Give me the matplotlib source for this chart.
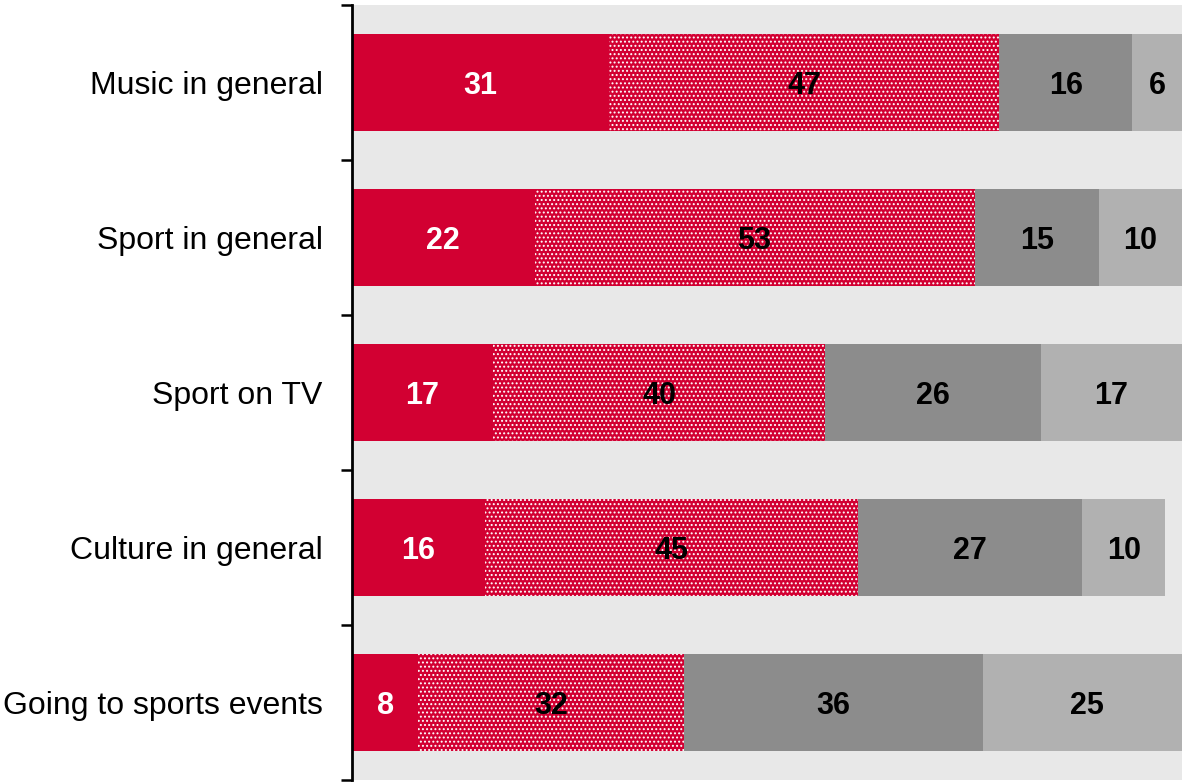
import matplotlib
matplotlib.use("Agg")
import matplotlib.pyplot as plt
import numpy as np

plt.rcParams['font.family'] = ['Liberation Sans', 'DejaVu Sans']
plt.rcParams['hatch.linewidth'] = 0.9

categories = ["Music in general", "Sport in general", "Sport on TV",
              "Culture in general", "Going to sports events"]
very_interested = [31, 22, 17, 16, 8]
quite_interested = [47, 53, 40, 45, 32]
not_very = [16, 15, 26, 27, 36]
not_at_all = [6, 10, 17, 10, 25]

series = [very_interested, quite_interested, not_very, not_at_all]
colors = ["#d20032", "#d20032", "#8c8c8c", "#b1b1b1"]
hatches = [None, "....", None, None]
text_colors = ["white", "black", "black", "black"]

fig = plt.figure(figsize=(11.82, 7.82), dpi=100)
ax = fig.add_axes([352 / 1182, 2 / 782, 1 - 352 / 1182, 775 / 782])
ax.set_facecolor("#e8e8e8")

y = np.arange(len(categories))
left = np.zeros(len(categories))
for vals, col, hat, tcol in zip(series, colors, hatches, text_colors):
    vals = np.array(vals, dtype=float)
    ax.barh(y, vals, left=left, height=0.625, color=col,
            edgecolor="white" if hat else col, linewidth=0, hatch=hat)
    for yi, l, v in zip(y, left, vals):
        ax.text(l + v / 2, yi, f"{int(v)}", ha="center", va="center_baseline",
                fontsize=22, fontweight="bold", color=tcol)
    left += vals

ax.set_xlim(0, 100)
ax.set_ylim(len(categories) - 0.5, -0.5)
ax.set_xticks([])

# boundary ticks between rows, labels centred on rows
ax.set_yticks(np.arange(-0.5, len(categories)))
ax.set_yticklabels([])
ax.set_yticks(y, minor=True)
ax.set_yticklabels(categories, minor=True, fontsize=23)
ax.tick_params(axis="y", which="major", length=8, width=1.8, direction="out")
ax.tick_params(axis="y", which="minor", length=0, pad=21)

for s in ["top", "right", "bottom"]:
    ax.spines[s].set_visible(False)
ax.spines["left"].set_linewidth(2)

fig.savefig("out.png", dpi=100)
